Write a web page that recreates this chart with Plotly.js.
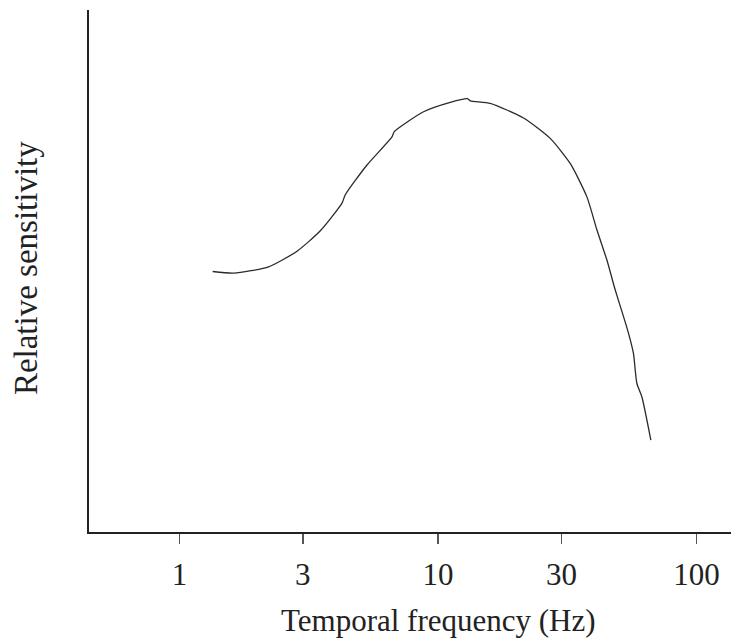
<!DOCTYPE html>
<html>
<head>
<meta charset="utf-8">
<script src="https://cdn.plot.ly/plotly-3.0.1.min.js"></script>
<style>html,body{margin:0;padding:0;background:#fff;}#chart{width:731px;height:639px;}</style>
</head>
<body>
<div id="chart"></div>
<script>
var frequencyHz = [1.344, 1.62, 2.212, 2.849, 3.505, 4.251, 4.378, 5.311, 6.634, 6.771, 8.79, 11.15, 13.0, 13.32, 15.91, 21.41, 27.15, 32.44, 37.64, 41.14, 44.98, 48.42, 52.13, 54.51, 56.98, 58.73, 61.41, 66.53];
var sensitivity = [0.499, 0.496, 0.508, 0.538, 0.577, 0.630, 0.646, 0.703, 0.757, 0.767, 0.805, 0.823, 0.830, 0.826, 0.821, 0.793, 0.754, 0.706, 0.642, 0.579, 0.521, 0.464, 0.413, 0.381, 0.342, 0.285, 0.259, 0.176];
var tickValues = [1, 3, 10, 30, 100];
var tickLabels = ["1", "3", "10", "30", "100"];
var xTitle = "Temporal frequency (Hz)";
var yTitle = "Relative sensitivity";

var fontFam = "'Liberation Serif', 'Times New Roman', serif";
var trace = {
  x: frequencyHz, y: sensitivity, type: 'scatter', mode: 'lines',
  line: {color: '#2a2a2a', width: 1.3, shape: 'spline', smoothing: 0.6},
  hoverinfo: 'none'
};
var layout = {
  width: 731, height: 639,
  margin: {l: 89, r: 0, t: 10, b: 107},
  paper_bgcolor: '#fff', plot_bgcolor: '#fff',
  showlegend: false,
  font: {family: fontFam, size: 31, color: '#222'},
  xaxis: {
    type: 'log', range: [-0.35, 2.133],
    tickvals: tickValues, ticktext: tickLabels,
    ticks: 'outside', ticklen: 10, tickwidth: 1.3, tickcolor: '#555',
    ticklabelstandoff: 4,
    showline: true, linecolor: '#222', linewidth: 2,
    showgrid: false, zeroline: false,
    tickfont: {family: fontFam, size: 31, color: '#222'}
  },
  yaxis: {
    range: [0, 1], showticklabels: false, ticks: '',
    showline: true, linecolor: '#222', linewidth: 2,
    showgrid: false, zeroline: false
  },
  annotations: [
    {text: xTitle, xref: 'paper', yref: 'paper', x: 0.5445, y: -0.1686, xanchor: 'center', yanchor: 'middle', showarrow: false, font: {family: fontFam, size: 31, color: '#222'}},
    {text: yTitle, xref: 'paper', yref: 'paper', x: -0.098, y: 0.5057, xanchor: 'center', yanchor: 'middle', textangle: -90, showarrow: false, font: {family: fontFam, size: 33, color: '#222'}}
  ]
};
Plotly.newPlot('chart', [trace], layout, {displayModeBar: false, staticPlot: true});
</script>
</body>
</html>
